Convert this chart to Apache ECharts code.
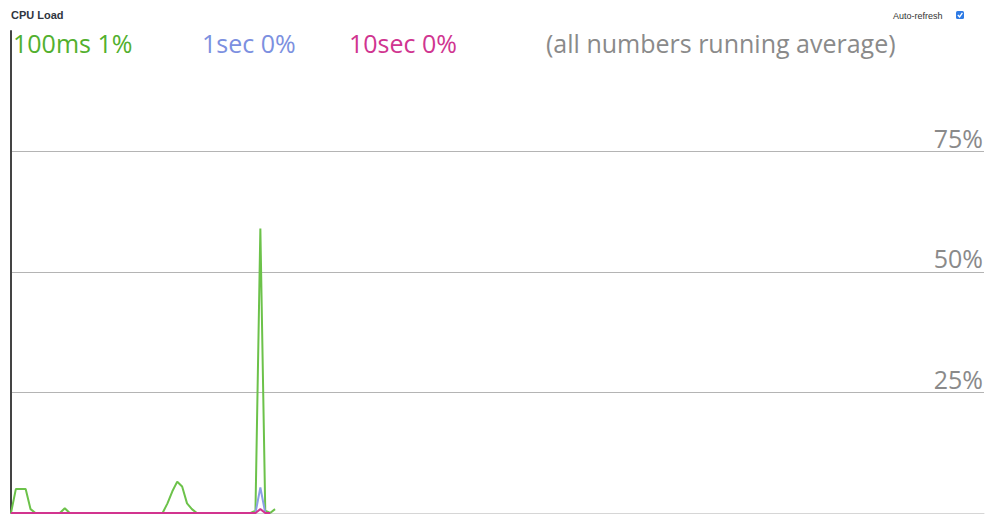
<!DOCTYPE html>
<html>
<head>
<meta charset="utf-8">
<title>CPU Load</title>
<script src="https://cdn.jsdelivr.net/npm/echarts@6/dist/echarts.min.js"></script>
<style>
  html, body { margin: 0; padding: 0; background: #fff; }
  #cpu_graph { width: 989px; height: 514px; }
</style>
</head>
<body>
<div id="cpu_graph"></div>
<script>
// samples of cpu load (%) per 100ms, 1sec and 10sec running averages
var slots = 200;
var load100ms = [0, 5, 5, 5, 0.8, 0, 0, 0, 0, 0, 0, 1, 0, 0, 0, 0, 0, 0, 0, 0,
                 0, 0, 0, 0, 0, 0, 0, 0, 0, 0, 0, 0, 2, 4.5, 6.5, 5.5, 2, 0.8, 0, 0,
                 0, 0, 0, 0, 0, 0, 0, 0, 0, 0, 0.5, 59, 0.5, 0, 0.8];
var load1sec = [0, 0, 0, 0, 0, 0, 0, 0, 0, 0, 0, 0, 0, 0, 0, 0, 0, 0, 0, 0,
                0, 0, 0, 0, 0, 0, 0, 0, 0, 0, 0, 0, 0, 0, 0, 0, 0, 0, 0, 0,
                0, 0, 0, 0, 0, 0, 0, 0, 0, 0, 0, 5.3, 0, 0];
var load10sec = [0, 0, 0, 0, 0, 0, 0, 0, 0, 0, 0, 0, 0, 0, 0, 0, 0, 0, 0, 0,
                 0, 0, 0, 0, 0, 0, 0, 0, 0, 0, 0, 0, 0, 0, 0, 0, 0, 0, 0, 0,
                 0, 0, 0, 0, 0, 0, 0, 0, 0, 0, 0, 0.8, 0, 0];
var yTicks = [0, 25, 50, 75, 100];
var headline = ['100ms 1%', '1sec 0%', '10sec 0%', '(all numbers running average)'];

var green = '#6cc24a', blue = '#8c9ee6', pink = '#d2348f';

function pairs(arr) {
    return arr.map(function (v, i) { return [i, v]; });
}

var chart = echarts.init(document.getElementById('cpu_graph'), null, {renderer: 'svg'});
var option = {
    animation: false,
    grid: { left: 11, right: 5, top: 31, bottom: 1 },
    xAxis: {
        type: 'value', min: 0, max: slots - 1,
        axisLine: { show: true, onZero: false, lineStyle: { color: '#d6d6d6', width: 1 } },
        axisTick: { show: false },
        axisLabel: { show: false },
        splitLine: { show: false }
    },
    yAxis: [
        {
            type: 'value', position: 'right',
            min: yTicks[0], max: yTicks[yTicks.length - 1], interval: 25,
            axisLine: { show: false },
            axisTick: { show: false },
            axisLabel: {
                inside: true, margin: 1,
                showMinLabel: false, showMaxLabel: false,
                verticalAlign: 'bottom', lineHeight: 28,
                fontFamily: 'Open Sans', fontSize: 25, color: '#8a8a8a',
                formatter: '{value}%'
            },
            splitLine: { show: true, showMinLine: false, showMaxLine: false, lineStyle: { color: '#b4b4b4', width: 1 } }
        },
        {
            type: 'value', position: 'left',
            min: yTicks[0], max: yTicks[yTicks.length - 1],
            axisLine: { show: true, lineStyle: { color: '#444', width: 2 } },
            axisTick: { show: false },
            axisLabel: { show: false },
            splitLine: { show: false }
        }
    ],
    graphic: [
        { type: 'text', left: 11, top: 9, style: { text: 'CPU Load', font: 'bold 11px "Liberation Sans"', fill: '#2f3640' } },
        { type: 'text', left: 893, top: 11, style: { text: 'Auto-refresh', font: '9px "Liberation Sans"', fill: '#333' } },
        { type: 'rect', shape: { x: 956, y: 11, width: 8, height: 8, r: 1.5 }, style: { fill: '#2f7be5' } },
        { type: 'polyline', shape: { points: [[957.8, 15], [959.6, 16.9], [962.4, 12.8]] }, style: { stroke: '#fff', lineWidth: 1.3, fill: null } },
        { type: 'text', left: 13, top: 30, style: { text: headline[0], font: '25px "Open Sans"', fill: '#52b02e' } },
        { type: 'text', left: 202, top: 30, style: { text: headline[1], font: '25px "Open Sans"', fill: '#7c90e0' } },
        { type: 'text', left: 349, top: 30, style: { text: headline[2], font: '25px "Open Sans"', fill: '#d03590' } },
        { type: 'text', left: 546, top: 30, style: { text: headline[3], font: '25px "Open Sans"', fill: '#8a8a8a' } }
    ],
    series: [
        {
            name: '100ms', type: 'line', data: pairs(load100ms), showSymbol: false,
            lineStyle: { color: green, width: 2 }, itemStyle: { color: green }
        },
        {
            name: '1sec', type: 'line', data: pairs(load1sec), showSymbol: false,
            lineStyle: { color: blue, width: 2 }, itemStyle: { color: blue }
        },
        {
            name: '10sec', type: 'line', data: pairs(load10sec), showSymbol: false,
            lineStyle: { color: pink, width: 2 }, itemStyle: { color: pink }
        }
    ]
};
chart.setOption(option);
</script>
</body>
</html>
